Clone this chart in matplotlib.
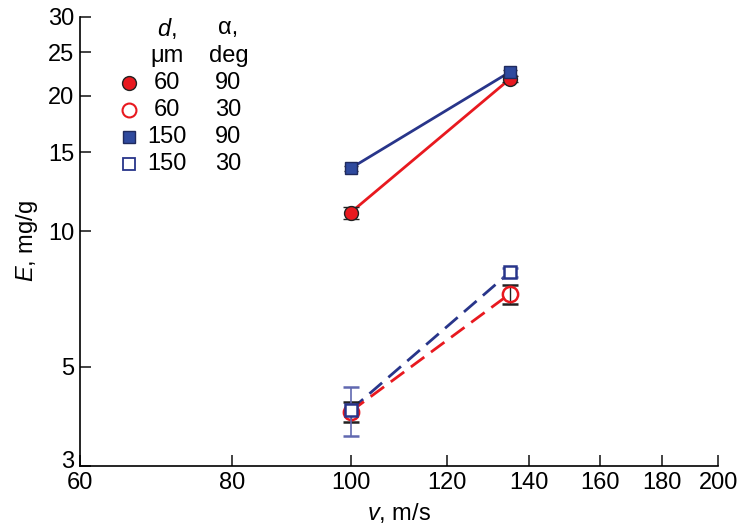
import numpy as np
import matplotlib.pyplot as plt
import matplotlib
import matplotlib.transforms as mtransforms

matplotlib.rcParams['font.family'] = ['Liberation Sans', 'DejaVu Sans']
matplotlib.rcParams['mathtext.fontset'] = 'custom'
matplotlib.rcParams['mathtext.it'] = 'Liberation Sans:italic'
matplotlib.rcParams['mathtext.rm'] = 'Liberation Sans'

# ---- data ----
v = np.array([100, 135])                  # m/s
E_60_90 = np.array([11.0, 21.8])
E_60_90_err = np.array([0.35, 0.35])
E_60_30 = np.array([3.97, 7.25])
E_60_30_err = np.array([0.2, 0.35])
E_150_90 = np.array([13.8, 22.6])
E_150_90_err = np.array([0.2, 0.3])
E_150_30 = np.array([4.0, 8.1])
E_150_30_err = np.array([0.5, 0.2])

d_labels = ["60", "60", "150", "150"]
a_labels = ["90", "30", "90", "30"]

xticks = [60, 80, 100, 120, 140, 160, 180, 200]
yticks = [3, 5, 10, 15, 20, 25, 30]

red = "#e8191f"
navy = "#28358a"
fs = 17

fig = plt.figure(figsize=(7.38, 5.25), dpi=100)
ax = fig.add_axes([0.108, 0.112, 0.865, 0.856])
ax.set_xscale("log")
ax.set_yscale("log")

# lines
ax.plot(v, E_150_90, "-", color=navy, lw=2, zorder=2)
ax.plot(v, E_60_90, "-", color=red, lw=2, zorder=2)
ax.plot(v, E_150_30, "--", color=navy, lw=2, dashes=(6, 3), zorder=2)
ax.plot(v, E_60_30, "--", color=red, lw=2, dashes=(6, 3), zorder=2)

# error bars + markers
ax.errorbar(v, E_60_90, yerr=E_60_90_err, fmt="o", ms=10, mfc=red, mec="#222222",
            mew=1, ecolor="#222222", elinewidth=1, capsize=6, zorder=3)
ax.errorbar(v, E_150_90, yerr=E_150_90_err, fmt="s", ms=9, mfc="#2f4a9e", mec="#1f2a5e",
            mew=1, ecolor="#222222", elinewidth=1, capsize=5, zorder=3)
ax.errorbar(v, E_60_30, yerr=E_60_30_err, fmt="o", ms=11, mfc="none", mec=red,
            mew=1.8, ecolor="#222222", elinewidth=1, capsize=6, zorder=3)
ax.errorbar(v, E_150_30, yerr=E_150_30_err, fmt="s", ms=9, mfc="white", mec=navy,
            mew=1.8, ecolor="#6068b0", elinewidth=1.2, capsize=6, zorder=4)

ax.set_xlim(60, 200)
ax.set_ylim(3, 30)
ax.set_xticks(xticks)
ax.set_xticklabels([str(t) for t in xticks])
ax.set_yticks(yticks)
ax.set_yticklabels([str(t) for t in yticks])
ax.minorticks_off()
ax.tick_params(direction="in", length=8, width=1.2, labelsize=fs, color="#222222")
ax.tick_params(axis="x", pad=4)
ax.tick_params(axis="y", pad=4)
for s in ["top", "right"]:
    ax.spines[s].set_visible(False)
for s in ["left", "bottom"]:
    ax.spines[s].set_linewidth(1.2)

# lift the bottom "3" label a little so it clears "60"
lbl3 = ax.get_yticklabels()[0]
lbl3.set_transform(lbl3.get_transform() + mtransforms.ScaledTranslation(0, 5 / 72, fig.dpi_scale_trans))

ax.set_xlabel("$\\mathit{v}$, m/s", fontsize=fs, labelpad=5)
ax.set_ylabel("$\\mathit{E}$, mg/g", fontsize=fs, labelpad=6)

# legend as a small table
tr = ax.transAxes
cx_d, cx_a = 0.137, 0.233
ax.text(cx_d, 0.975, "$\\mathit{d}$,", transform=tr, fontsize=fs, ha="center", va="center")
ax.text(cx_d, 0.912, "\u03bcm", transform=tr, fontsize=fs, ha="center", va="center")
ax.text(cx_a, 0.975, "\u03b1,", transform=tr, fontsize=fs, ha="center", va="center")
ax.text(cx_a, 0.912, "deg", transform=tr, fontsize=fs, ha="center", va="center")
styles = [
    dict(marker="o", ms=10, mfc=red, mec="#222222", mew=1),
    dict(marker="o", ms=10, mfc="none", mec=red, mew=1.5),
    dict(marker="s", ms=8, mfc="#2f4a9e", mec="#1f2a5e", mew=1),
    dict(marker="s", ms=8, mfc="white", mec=navy, mew=1.3),
]
rows_y = [0.852, 0.793, 0.733, 0.672]
for yy, st, dl, al in zip(rows_y, styles, d_labels, a_labels):
    ax.plot([0.077], [yy], transform=tr, linestyle="none", clip_on=False, **st)
    ax.text(cx_d, yy, dl, transform=tr, fontsize=fs, ha="center", va="center")
    ax.text(cx_a, yy, al, transform=tr, fontsize=fs, ha="center", va="center")

fig.savefig("out.png", dpi=100)
